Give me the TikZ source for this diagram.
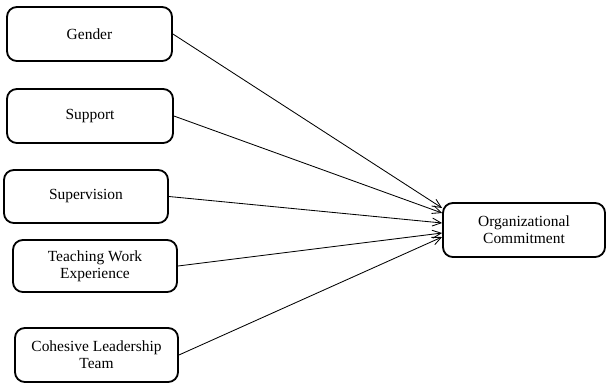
\documentclass[tikz,border=0pt]{standalone}
\usepackage{fontspec}
\setmainfont{Liberation Serif}
\usetikzlibrary{arrows.meta}
\begin{document}
\begin{tikzpicture}[
    varbox/.style={draw, line width=1.3pt, rounded corners=7pt, align=center,
      minimum height=1.35cm, font=\fontsize{11}{12.2}\selectfont},
    path/.style={-{Straight Barb[length=2.2mm,width=2mm]}, line width=0.6pt}]
            \useasboundingbox (0,0) rectangle (15.15,-9.575);
            % predictors
            \node[varbox, minimum width=4.125cm] (gender) at (2.2375,-0.85) {Gender};
            \node[varbox, minimum width=4.15cm] (support) at (2.25,-2.9) {Support};
            \node[varbox, minimum width=4.1cm, minimum height=1.325cm] (supervision) at (2.15,-4.9125) {Supervision};
            \node[varbox, minimum width=4.1cm, minimum height=1.3cm] (teaching) at (2.375,-6.65) {Teaching Work\\Experience};
            \node[varbox, minimum width=4.075cm] (cohesive) at (2.4125,-8.875) {Cohesive Leadership\\Team};
            % outcome
            \node[varbox, minimum width=4.05cm] (commit) at (13.1,-5.75) {Organizational\\Commitment};
            % paths
            \draw[path] (gender.east) -- ([yshift=0.55cm]commit.west);
            \draw[path] (support.east) -- ([yshift=0.425cm]commit.west);
            \draw[path] (supervision.east) -- ([yshift=0.175cm]commit.west);
            \draw[path] (teaching.east) -- ([yshift=-0.075cm]commit.west);
            \draw[path] (cohesive.east) -- ([yshift=-0.175cm]commit.west);
        \end{tikzpicture}
\end{document}
